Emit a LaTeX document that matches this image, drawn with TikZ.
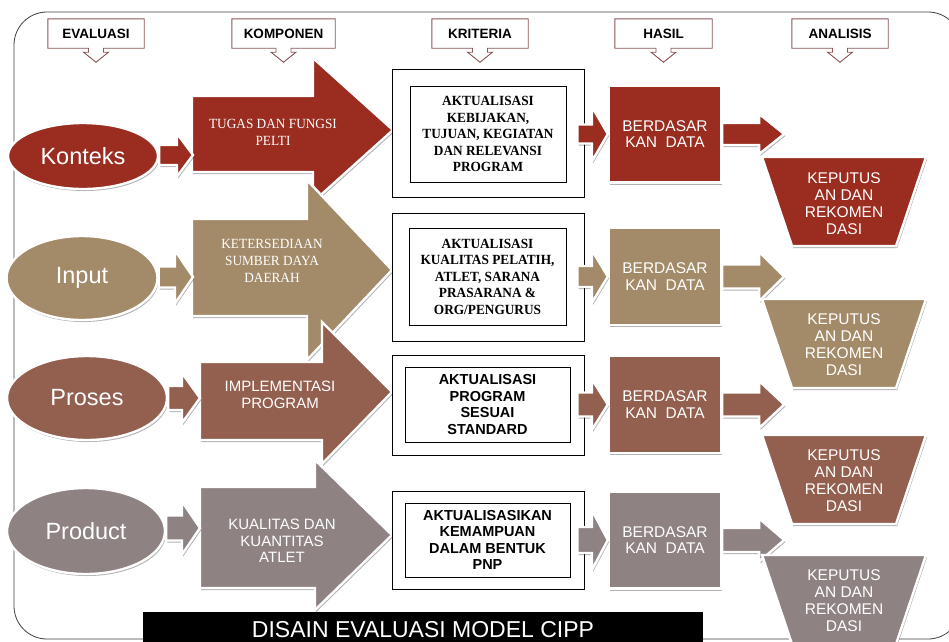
\documentclass[tikz,border=0pt]{standalone}
\usepackage{fontspec}
\setmainfont{Liberation Sans}
\newfontfamily\narrowserif{Liberation Serif}[FakeStretch=0.95]
\usetikzlibrary{shapes.geometric,shadows,calc}

\definecolor{rowred}{HTML}{9A2C20}
\definecolor{rowtan}{HTML}{A38B6A}
\definecolor{rowbrown}{HTML}{935F4F}
\definecolor{rowgrey}{HTML}{8F8282}
\definecolor{hdrbrown}{HTML}{8C5656}

\tikzset{
  softshadow/.style={drop shadow={shadow xshift=1.2pt, shadow yshift=-2pt, opacity=0.3, fill=black}},
  blob/.style={softshadow, draw=white, line width=2.4pt, line join=miter},
  hdrtext/.style={inner sep=0pt, minimum height=29pt, font={\fontsize{13.5}{15}\selectfont\bfseries}},
  hdrline/.style={draw=hdrbrown, line width=0.9pt},
  oval/.style={ellipse, blob, inner sep=0pt, text=white, font=\fontsize{23.5}{26}\selectfont},
  serifwhite/.style={text=white, align=center, inner sep=0pt, font=\narrowserif\fontsize{14}{17}\selectfont},
  sanswhite/.style={text=white, align=center, inner sep=0pt, font=\fontsize{15}{16.5}\selectfont},
  outerbox/.style={draw=black, fill=white, line width=1pt, minimum width=192pt, inner sep=0pt},
  innerbox/.style={draw=black, fill=white, line width=1pt, inner sep=0pt, align=center},
  critserif/.style={innerbox, font=\narrowserif\bfseries\fontsize{14}{16.5}\selectfont},
  critsans/.style={innerbox, font=\bfseries\fontsize{14.5}{16.5}\selectfont},
  datasq/.style={blob, minimum width=112pt, minimum height=97pt, inner sep=0pt, text=white, align=center, font=\fontsize{15.5}{16.5}\selectfont},
  decisiontext/.style={text=white, align=center, inner sep=0pt, font=\fontsize{15.5}{17}\selectfont},
  banner/.style={fill=black, text=white, minimum width=560pt, minimum height=36pt, inner sep=0pt, font=\fontsize{23}{26}\selectfont},
}

% header box with a small down-pointing arrow under it
\newcommand{\hdrcallout}[1]{%
  \path[hdrline] (#1.north west) -- (#1.north east) -- (#1.south east)
    -- ([xshift=7.5pt]#1.south) -- ++(0,4) -- ++(5,0) -- ++(-12.5,10)
    -- ++(-12.5,-10) -- ++(5,0) -- ++(0,-4) -- (#1.south west) -- cycle;}

% large component arrow: fill, left, body top, body bottom, head x, head top, head bottom, tip x, tip y
\newcommand{\comparrow}[9]{%
  \path[blob, fill=#1] (#2,#3) -- (#5,#3) -- (#5,#6) -- (#8,#9) -- (#5,#7)
    -- (#5,#4) -- (#2,#4) -- cycle;}

% block arrow between two points: fill, from, to, shaft half width, head half width, head length
\newcommand{\blockarrow}[6]{%
  \path[blob, fill=#1] let \p1=(#2), \p2=(#3) in
    (\x1,\y2+#4pt) -- (\x2-#6pt,\y2+#4pt) -- (\x2-#6pt,\y2+#5pt) -- (\x2,\y2)
    -- (\x2-#6pt,\y2-#5pt) -- (\x2-#6pt,\y2-#4pt) -- (\x1,\y2-#4pt) -- cycle;}

% decision trapezoid with its top edge at height #2
\newcommand{\decision}[2]{%
  \path[blob, fill=#1] (762,#2) -- (926,#2) -- (896,#2+89) -- (792,#2+89) -- cycle;}

\begin{document}
\begin{tikzpicture}[x=1pt, y=-1pt]
\clip (0,0) rectangle (949,641);
\fill[white] (0,0) rectangle (949,641);

% frame
\draw[black!75, line width=0.8pt, rounded corners=33pt] (14,12) rectangle (961,639);

% column headers
\node[hdrtext, minimum width=96pt] (hEval) at (96,33.5) {EVALUASI};
\hdrcallout{hEval}
\node[hdrtext, minimum width=103pt] (hKomp) at (283.5,33.5) {KOMPONEN};
\hdrcallout{hKomp}
\node[hdrtext, minimum width=96pt] (hKrit) at (480,33.5) {KRITERIA};
\hdrcallout{hKrit}
\node[hdrtext, minimum width=97pt] (hHasil) at (663.5,33.5) {HASIL};
\hdrcallout{hHasil}
\node[hdrtext, minimum width=96pt] (hAnal) at (840,33.5) {ANALISIS};
\hdrcallout{hAnal}

% row 1: context
\node[oval, fill=rowred, minimum width=150pt, minimum height=66pt] (konteks) at (83,156) {Konteks};
\comparrow{rowred}{192}{96}{172}{313}{58}{202}{393}{130}
\node[serifwhite] (tugas) at (273,132) {TUGAS DAN FUNGSI\\PELTI};
\coordinate (tugasin) at (193,155);
\blockarrow{rowred}{konteks.east}{tugasin}{10}{21.5}{16}

% row 2: input
\node[oval, fill=rowtan, minimum width=151pt, minimum height=84pt] (input) at (82,278) {Input};
\comparrow{rowtan}{192}{219}{316}{307}{180}{360}{392}{270}
\node[serifwhite] (sumber) at (272,261) {KETERSEDIAAN\\SUMBER DAYA\\DAERAH};
\coordinate (sumberin) at (193,277);
\blockarrow{rowtan}{input.east}{sumberin}{10.5}{26.5}{18}

% row 3: process
\node[oval, fill=rowbrown, minimum width=160pt, minimum height=84pt] (proses) at (87,398) {Proses};
\comparrow{rowbrown}{200}{362}{440}{322}{322}{464}{392}{392}
\node[sanswhite] (implem) at (280,395) {IMPLEMENTASI\\PROGRAM};
\coordinate (implemin) at (200,398);
\blockarrow{rowbrown}{proses.east}{implemin}{12}{25}{18}

% row 4: product
\node[oval, fill=rowgrey, minimum width=158pt, minimum height=86pt] (product) at (86,531) {Product};
\comparrow{rowgrey}{200}{487}{588}{315}{460}{610}{392}{535}
\node[sanswhite] (kualitas) at (282,541) {KUALITAS DAN\\KUANTITAS\\ATLET};
\coordinate (kualitasin) at (200,528);
\blockarrow{rowgrey}{product.east}{kualitasin}{12.5}{26.5}{18}

% criteria
\node[outerbox, minimum height=128pt] (crit1) at (488,133) {};
\node[critserif, minimum width=156pt, minimum height=96pt] (krit1) at (488,134)
  {AKTUALISASI\\KEBIJAKAN,\\TUJUAN, KEGIATAN\\DAN RELEVANSI\\PROGRAM};
\node[outerbox, minimum height=128pt] (crit2) at (488,277) {};
\node[critserif, minimum width=157pt, minimum height=97pt] (krit2) at (487.5,276.5)
  {AKTUALISASI\\KUALITAS PELATIH,\\ATLET, SARANA\\PRASARANA \&\\ORG/PENGURUS};
\node[outerbox, minimum height=100pt] (crit3) at (488,405) {};
\node[critsans, minimum width=165pt, minimum height=75pt] (krit3) at (487.5,404.5)
  {AKTUALISASI\\PROGRAM\\SESUAI\\STANDARD};
\node[outerbox, minimum height=98pt] (crit4) at (488,540) {};
\node[critsans, minimum width=165pt, minimum height=74pt] (krit4) at (487.5,540)
  {AKTUALISASIKAN\\KEMAMPUAN\\DALAM BENTUK\\PNP};

% results
\node[datasq, fill=rowred] (data1) at (665,134) {BERDASAR\\KAN~~DATA};
\node[datasq, fill=rowtan] (data2) at (665,276.5) {BERDASAR\\KAN~~DATA};
\node[datasq, fill=rowbrown] (data3) at (665,404.5) {BERDASAR\\KAN~~DATA};
\node[datasq, fill=rowgrey] (data4) at (665,540) {BERDASAR\\KAN~~DATA};

\blockarrow{rowred}{[xshift=-7pt]crit1.east}{data1.west}{9.5}{27.5}{16}
\blockarrow{rowtan}{[xshift=-7pt]crit2.east}{data2.west}{10.5}{26.5}{16}
\blockarrow{rowbrown}{[xshift=-7pt]crit3.east}{data3.west}{12}{25.5}{16}
\blockarrow{rowgrey}{[xshift=-7pt]crit4.east}{data4.west}{13}{30}{16}

\coordinate (out1) at ([xshift=62pt]data1.east);
\coordinate (out2) at ([xshift=62pt]data2.east);
\coordinate (out3) at ([xshift=62pt]data3.east);
\coordinate (out4) at ([xshift=62pt]data4.east);
\blockarrow{rowred}{data1.east}{out1}{11}{20}{25}
\blockarrow{rowtan}{data2.east}{out2}{12}{24.5}{25}
\blockarrow{rowbrown}{data3.east}{out3}{12}{23.5}{25}
\blockarrow{rowgrey}{data4.east}{out4}{12}{21.5}{25}

% analysis
\decision{rowred}{157}
\node[decisiontext] (dec1) at (844,203.5) {KEPUTUS\\AN DAN\\REKOMEN\\DASI};
\decision{rowtan}{299}
\node[decisiontext] (dec2) at (844,345) {KEPUTUS\\AN DAN\\REKOMEN\\DASI};
\decision{rowbrown}{435}
\node[decisiontext] (dec3) at (844,481) {KEPUTUS\\AN DAN\\REKOMEN\\DASI};
\decision{rowgrey}{555}
\node[decisiontext] (dec4) at (844,601) {KEPUTUS\\AN DAN\\REKOMEN\\DASI};

% title bar
\node[banner] (title) at (423,630) {DISAIN EVALUASI MODEL CIPP};
\end{tikzpicture}
\end{document}
